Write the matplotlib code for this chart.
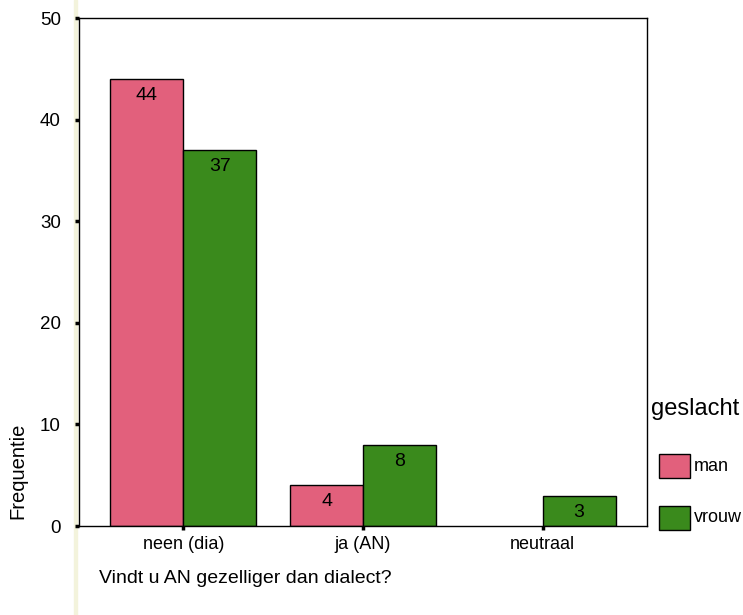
import matplotlib.pyplot as plt
import matplotlib.patches as mpatches
import numpy as np

categories = ['neen (dia)', 'ja (AN)', 'neutraal']
man = [44, 4, 0]
vrouw = [37, 8, 3]
series_names = ['man', 'vrouw']
colors = ['#e2607c', '#3a8a1c']


def main():
    plt.rcParams['font.family'] = ['Liberation Sans', 'DejaVu Sans']
    fig = plt.figure(figsize=(7.43, 6.15), dpi=100)
    ax = fig.add_axes([0.1063, 0.1447, 0.7645, 0.826])

    x = np.arange(len(categories))
    w = 0.405
    for vals, off, col in [(man, -w / 2, colors[0]), (vrouw, w / 2, colors[1])]:
        for xi, v in zip(x, vals):
            if v == 0:
                continue
            ax.bar(xi + off, v, width=w, color=col, edgecolor='black', linewidth=1.0)
            ax.text(xi + off, v - 0.8, str(v), ha='center', va='top', fontsize=14)

    ax.set_xlim(-0.58, 2.58)
    ax.set_ylim(0, 50)
    ax.set_yticks([0, 10, 20, 30, 40, 50])
    ax.set_xticks(x)
    ax.set_xticklabels(categories, fontsize=13)
    ax.tick_params(axis='y', labelsize=13.5, length=3, width=2.5, pad=10)
    ax.tick_params(axis='x', length=3, width=2.5, pad=4)
    for s in ax.spines.values():
        s.set_linewidth(1.0)

    # scan artifact strip on the left
    fig.patches.append(mpatches.Rectangle((0.099, 0.0), 0.004, 1.0, transform=fig.transFigure,
                                          color='#f3f3dc', zorder=-1))

    fig.text(0.024, 0.235, 'Frequentie', rotation=90, ha='center', va='center', fontsize=14.5)
    fig.text(0.133, 0.06, 'Vindt u AN gezelliger dan dialect?', ha='left', va='center', fontsize=14)

    fig.text(0.876, 0.335, 'geslacht', ha='left', va='center', fontsize=17)
    for i, (name, col) in enumerate(zip(series_names, colors)):
        yb = 0.223 - i * 0.084
        fig.patches.append(mpatches.Rectangle((0.887, yb), 0.041, 0.038, transform=fig.transFigure,
                                              facecolor=col, edgecolor='black', linewidth=1.0))
        fig.text(0.934, yb + 0.019, name, ha='left', va='center', fontsize=13)

    plt.savefig('out.png', dpi=100)


if __name__ == '__main__':
    main()
